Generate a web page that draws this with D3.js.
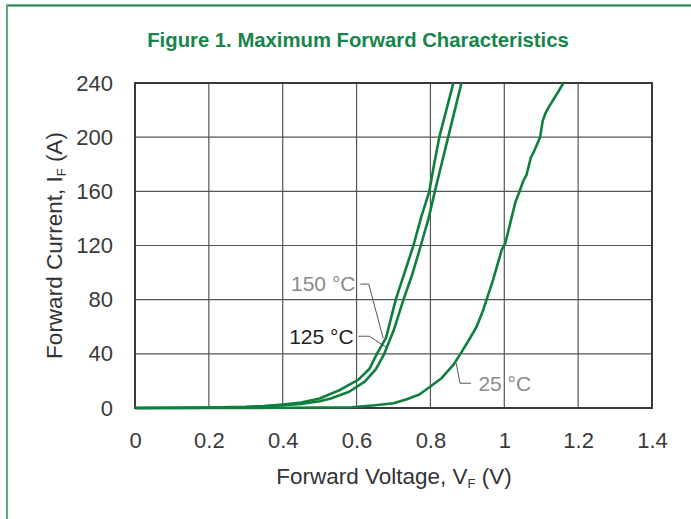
<!DOCTYPE html>
<html><head><meta charset="utf-8">
<script src="https://cdn.jsdelivr.net/npm/d3@7"></script>
<style>body{margin:0;background:#fff}svg{display:block}</style>
</head><body>
<svg id="c" width="691" height="519"></svg>
<script>
const xTicks = [0, 0.2, 0.4, 0.6, 0.8, 1.0, 1.2, 1.4];
const xTickLabels = ["0", "0.2", "0.4", "0.6", "0.8", "1", "1.2", "1.4"];
const yTicks = [0, 40, 80, 120, 160, 200, 240];

// Temperature 150 °C
const v150 = [0, 0.2, 0.3, 0.35, 0.4, 0.45, 0.5, 0.555, 0.605, 0.635, 0.655, 0.68, 0.706, 0.73, 0.754, 0.775, 0.797, 0.81, 0.824, 0.845, 0.862];
const i150 = [0, 0.3, 0.8, 1.5, 2.6, 4, 7, 13.3, 21, 29, 40, 52, 80, 100, 120, 141, 160, 180, 200, 222, 240];
// Temperature 125 °C
const v125 = [0, 0.2, 0.3, 0.35, 0.4, 0.45, 0.5, 0.53, 0.58, 0.622, 0.652, 0.675, 0.7, 0.727, 0.75, 0.774, 0.795, 0.812, 0.83, 0.848, 0.866, 0.884];
const i125 = [0, 0.2, 0.6, 1.2, 2, 3, 5, 7, 12, 19.5, 28.5, 40, 57, 80, 98, 120, 140, 160, 180, 200, 220, 240];
// Temperature 25 °C
const v25 = [0, 0.3, 0.587, 0.65, 0.7, 0.736, 0.77, 0.799, 0.83, 0.862, 0.885, 0.907, 0.925, 0.943, 0.97, 0.993, 1.003, 1.014, 1.03, 1.04, 1.052, 1.06, 1.072, 1.078, 1.097, 1.104, 1.112, 1.12, 1.138, 1.145, 1.16];
const i25 = [0, 0, 0.5, 2, 3.5, 6.4, 10, 15.7, 22, 31.8, 41.6, 51.5, 60, 72.4, 95, 116.7, 122, 134, 152, 159, 168, 172, 185, 188, 200, 212, 218, 222, 230, 233, 240];

const series = [
  {name: "150 °C", v: v150, i: i150},
  {name: "125 °C", v: v125, i: i125},
  {name: "25 °C", v: v25, i: i25}
];

const svg = d3.select("#c");
const L = 135, R = 652, T = 83, B = 408;
const x = d3.scaleLinear().domain([0, 1.4]).range([L, R]);
const y = d3.scaleLinear().domain([0, 240]).range([B, T]);
const green = "#0e7f3e";
const font = "'Liberation Sans', Arial, sans-serif";

// frame border
svg.append("line").attr("x1", 6).attr("x2", 691).attr("y1", 4).attr("y2", 4).attr("stroke", "#cfe6d6").attr("stroke-width", 1);
svg.append("line").attr("x1", 6).attr("x2", 691).attr("y1", 5.5).attr("y2", 5.5).attr("stroke", "#1f7f48").attr("stroke-width", 2);
svg.append("line").attr("x1", 7).attr("x2", 7).attr("y1", 5).attr("y2", 519).attr("stroke", "#5daa7c").attr("stroke-width", 2);

// title
svg.append("text").attr("x", 358).attr("y", 47).attr("text-anchor", "middle")
  .attr("font-family", "'Liberation Sans Narrow', 'Liberation Sans', Arial, sans-serif")
  .attr("font-weight", "bold").attr("font-size", 20.3).attr("fill", "#17854a")
  .text("Figure 1. Maximum Forward Characteristics");

// grid
const g = svg.append("g");
g.selectAll("line.gx").data(xTicks.slice(1, -1)).join("line")
  .attr("x1", d => x(d)).attr("x2", d => x(d)).attr("y1", T).attr("y2", B)
  .attr("stroke", "#555").attr("stroke-width", 1.2);
g.selectAll("line.gy").data(yTicks.slice(1, -1)).join("line")
  .attr("x1", L).attr("x2", R).attr("y1", d => y(d)).attr("y2", d => y(d))
  .attr("stroke", "#555").attr("stroke-width", 1.2);

// axes via d3
const xAxis = d3.axisBottom(x).tickValues(xTicks).tickFormat((d, k) => xTickLabels[k]).tickSize(0).tickPadding(24);
const yAxis = d3.axisLeft(y).tickValues(yTicks).tickSize(0).tickPadding(22);
const ax = svg.append("g").attr("transform", `translate(0,${B})`).call(xAxis);
const ay = svg.append("g").attr("transform", `translate(${L},0)`).call(yAxis);
[ax, ay].forEach(a => {
  a.select(".domain").remove();
  a.selectAll("text").attr("font-family", font).attr("font-size", 22).attr("fill", "#3a3a3a");
});

// frame
svg.append("rect").attr("x", L).attr("y", T).attr("width", R - L).attr("height", B - T)
  .attr("fill", "none").attr("stroke", "#3a3a3a").attr("stroke-width", 2);

// curves
const line = d3.line().x(d => x(d[0])).y(d => y(d[1]));
svg.append("g").selectAll("path").data(series).join("path")
  .attr("d", s => line(s.v.map((v, k) => [v, s.i[k]])))
  .attr("fill", "none").attr("stroke", green).attr("stroke-width", 2.6).attr("stroke-linejoin", "round");

// annotations (leader lines anchored to data positions)
const lead = d3.line();
svg.append("path").attr("d", lead([[x(0.61), y(91.5)], [x(0.633), y(91.5)], [x(0.672), y(51.5)]]))
  .attr("fill", "none").attr("stroke", "#444").attr("stroke-width", 0.9);
svg.append("path").attr("d", lead([[x(0.605), y(53)], [x(0.634), y(53)], [x(0.68), y(45)]]))
  .attr("fill", "none").attr("stroke", "#444").attr("stroke-width", 0.9);
svg.append("path").attr("d", lead([[x(0.87), y(33)], [x(0.88), y(18.3)], [x(0.91), y(18.3)]]))
  .attr("fill", "none").attr("stroke", "#444").attr("stroke-width", 0.9);

svg.append("text").attr("x", x(0.597)).attr("y", y(91.5)).attr("dy", "0.35em").attr("text-anchor", "end")
  .attr("font-family", font).attr("font-size", 21).attr("fill", "#8a8a8a").text("150 °C");
svg.append("text").attr("x", x(0.592)).attr("y", y(53)).attr("dy", "0.35em").attr("text-anchor", "end")
  .attr("font-family", font).attr("font-size", 21).attr("fill", "#222").text("125 °C");
svg.append("text").attr("x", x(0.93)).attr("y", y(18.3)).attr("dy", "0.35em").attr("text-anchor", "start")
  .attr("font-family", font).attr("font-size", 21).attr("fill", "#8a8a8a").text("25 °C");

// axis titles
const yt = svg.append("text").attr("transform", `translate(62,${(T + B) / 2}) rotate(-90)`)
  .attr("text-anchor", "middle").attr("font-family", font).attr("font-size", 22.5).attr("fill", "#333");
yt.append("tspan").text("Forward Current, I");
yt.append("tspan").attr("font-size", 13).attr("dy", 4).text("F");
yt.append("tspan").attr("dy", -4).text(" (A)");

const xt = svg.append("text").attr("x", 394).attr("y", 484).attr("text-anchor", "middle")
  .attr("font-family", font).attr("font-size", 22.5).attr("fill", "#333");
xt.append("tspan").text("Forward Voltage, V");
xt.append("tspan").attr("font-size", 13).attr("dy", 4).text("F");
xt.append("tspan").attr("dy", -4).text(" (V)");
</script>
</body></html>
